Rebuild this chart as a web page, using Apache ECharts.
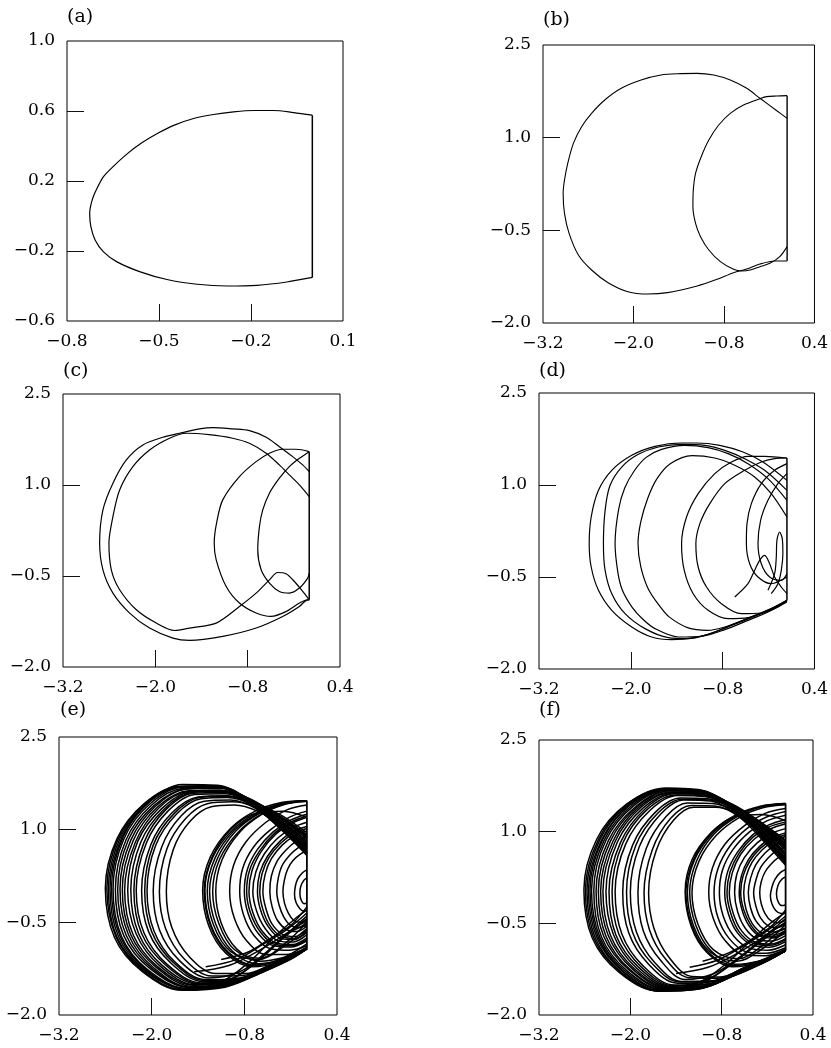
<!DOCTYPE html>
<html>
<head>
<meta charset="utf-8">
<script src="https://cdn.jsdelivr.net/npm/echarts@6/dist/echarts.min.js"></script>
<style>
  html, body { margin: 0; padding: 0; background: #fff; }
  #chart { width: 831px; height: 1048px; }
</style>
</head>
<body>
<div id="chart"></div>
<script>
// ---------- tick values ----------
const aXLabels = [-0.8, -0.5, -0.2, 0.1];
const aXTicks  = [-0.5, -0.2];
const aYLabels = [-0.6, -0.2, 0.2, 0.6, 1.0];
const aYTicks  = [-0.2, 0.2, 0.6];
const wideXLabels = [-3.2, -2.0, -0.8, 0.4];
const wideXTicks  = [-2.0, -0.8];
const wideYLabels = [-2.0, -0.5, 1.0, 2.5];
const wideYTicks  = [-0.5, 1.0];

// ---------- (a) period-1 orbit ----------
const aOrbit = [[0.0,0.576],[-0.061,0.591],[-0.126,0.603],[-0.191,0.603],[-0.257,0.595],[-0.322,0.580],[-0.387,0.557],[-0.452,0.518],[-0.507,0.470],[-0.556,0.418],[-0.604,0.355],[-0.648,0.285],[-0.681,0.225],[-0.702,0.158],[-0.718,0.091],[-0.726,0.015],[-0.722,-0.062],[-0.708,-0.138],[-0.681,-0.205],[-0.637,-0.262],[-0.561,-0.319],[-0.474,-0.363],[-0.376,-0.390],[-0.278,-0.400],[-0.180,-0.396],[-0.083,-0.377],[0.0,-0.351]];
const aWall = [[0.0,-0.351],[0.0,0.576]];

// ---------- (b) period-2 orbit ----------
const bOuter = [[0.037,1.313],[-0.104,1.440],[-0.323,1.637],[-0.498,1.799],[-0.717,1.933],[-0.936,2.014],[-1.155,2.041],[-1.374,2.036],[-1.636,2.014],[-1.899,1.933],[-2.162,1.799],[-2.381,1.610],[-2.556,1.394],[-2.688,1.178],[-2.797,0.908],[-2.872,0.585],[-2.915,0.315],[-2.933,0.099],[-2.915,-0.225],[-2.854,-0.549],[-2.731,-0.899],[-2.556,-1.142],[-2.337,-1.347],[-2.074,-1.493],[-1.812,-1.531],[-1.549,-1.509],[-1.155,-1.401],[-0.892,-1.293],[-0.673,-1.185],[-0.498,-1.126],[-0.323,-1.045],[-0.125,-0.996],[0.037,-0.996]];
const bInner = [[0.037,1.680],[-0.104,1.674],[-0.235,1.664],[-0.323,1.631],[-0.541,1.529],[-0.717,1.394],[-0.870,1.205],[-1.001,0.962],[-1.102,0.692],[-1.177,0.423],[-1.207,0.153],[-1.212,-0.117],[-1.177,-0.387],[-1.111,-0.603],[-1.001,-0.818],[-0.848,-1.007],[-0.673,-1.131],[-0.563,-1.158],[-0.454,-1.142],[-0.323,-1.088],[-0.191,-1.034],[-0.060,-0.926],[0.037,-0.764]];
const bWall = [[0.037,1.680],[0.037,-0.996]];

// ---------- (c) period-4 orbit ----------
const cLoop1 = [[0.0,1.221],[-0.085,1.331],[-0.215,1.468],[-0.388,1.632],[-0.560,1.787],[-0.777,1.896],[-0.994,1.924],[-1.253,1.945],[-1.426,1.924],[-1.685,1.853],[-1.902,1.787],[-2.162,1.660],[-2.377,1.413],[-2.551,1.030],[-2.681,0.590],[-2.724,0.042],[-2.681,-0.398],[-2.551,-0.782],[-2.334,-1.111],[-2.075,-1.358],[-1.772,-1.523],[-1.556,-1.562],[-1.124,-1.496],[-0.690,-1.358],[-0.345,-1.167],[-0.128,-1.002],[-0.020,-0.892],[0.0,-0.892]];
const cLoop2 = [[0.0,0.809],[-0.128,1.002],[-0.258,1.166],[-0.388,1.331],[-0.560,1.524],[-0.777,1.688],[-0.994,1.771],[-1.300,1.830],[-1.599,1.853],[-1.815,1.771],[-2.075,1.578],[-2.292,1.303],[-2.464,0.919],[-2.551,0.480],[-2.603,0.042],[-2.572,-0.398],[-2.464,-0.727],[-2.247,-1.057],[-1.988,-1.276],[-1.750,-1.398],[-1.556,-1.358],[-1.209,-1.276],[-0.907,-1.002],[-0.690,-0.782],[-0.517,-0.563],[-0.410,-0.442],[-0.301,-0.464],[-0.193,-0.591],[-0.085,-0.755],[-0.007,-0.880]];
const cLoop3 = [[0.0,1.550],[-0.171,1.589],[-0.345,1.589],[-0.517,1.524],[-0.690,1.385],[-0.907,1.138],[-1.124,0.755],[-1.200,0.400],[-1.235,0.050],[-1.209,-0.233],[-1.079,-0.673],[-0.907,-0.946],[-0.690,-1.111],[-0.495,-1.167],[-0.301,-1.085],[-0.128,-0.946],[-0.020,-0.892],[0.0,-0.892]];
const cLoop4 = [[0.0,1.550],[-0.128,1.441],[-0.258,1.303],[-0.388,1.112],[-0.517,0.865],[-0.604,0.590],[-0.647,0.315],[-0.669,-0.069],[-0.625,-0.398],[-0.517,-0.617],[-0.388,-0.755],[-0.258,-0.782],[-0.128,-0.699],[-0.020,-0.535],[0.0,-0.452]];
const cWall = [[0.0,1.550],[0.0,-0.892]];

// ---------- (d) higher-period orbit ----------
const dLoop1 = [[0.040,1.076],[-0.273,1.375],[-0.534,1.538],[-0.838,1.647],[-1.142,1.685],[-1.337,1.685],[-1.684,1.630],[-1.988,1.484],[-2.249,1.239],[-2.423,0.913],[-2.518,0.478],[-2.544,0.044],[-2.518,-0.337],[-2.423,-0.717],[-2.249,-1.043],[-1.988,-1.315],[-1.728,-1.478],[-1.467,-1.522],[-1.163,-1.489],[-0.903,-1.397],[-0.642,-1.261],[-0.382,-1.125],[-0.165,-1.016],[0.040,-0.880]];
const dLoop2 = [[0.040,0.913],[-0.251,1.239],[-0.512,1.429],[-0.772,1.565],[-1.033,1.647],[-1.337,1.663],[-1.641,1.620],[-1.902,1.500],[-2.119,1.293],[-2.271,0.995],[-2.336,0.587],[-2.358,0.044],[-2.336,-0.391],[-2.249,-0.772],[-2.075,-1.098],[-1.815,-1.342],[-1.511,-1.489],[-1.250,-1.505],[-0.990,-1.435],[-0.686,-1.288],[-0.382,-1.141],[-0.165,-1.033],[0.040,-0.891]];
const dLoop3 = [[0.040,0.750],[-0.208,1.103],[-0.469,1.348],[-0.729,1.511],[-0.990,1.609],[-1.294,1.647],[-1.598,1.580],[-1.800,1.450],[-1.950,1.240],[-2.080,0.950],[-2.160,0.600],[-2.206,0.045],[-2.170,-0.420],[-2.110,-0.717],[-1.980,-1.000],[-1.850,-1.180],[-1.684,-1.342],[-1.380,-1.478],[-1.077,-1.467],[-0.772,-1.359],[-0.469,-1.207],[-0.208,-1.071],[0.040,-0.908]];
const dLoop4 = [[0.040,0.478],[-0.165,0.859],[-0.382,1.130],[-0.642,1.321],[-0.903,1.440],[-1.200,1.480],[-1.480,1.350],[-1.660,1.100],[-1.780,0.780],[-1.870,0.400],[-1.906,0.045],[-1.870,-0.330],[-1.770,-0.700],[-1.620,-0.980],[-1.500,-1.150],[-1.250,-1.330],[-1.000,-1.370],[-0.772,-1.315],[-0.469,-1.179],[-0.208,-1.043],[0.040,-0.891]];
const dLoop5 = [[0.040,1.440],[-0.251,1.467],[-0.469,1.467],[-0.686,1.375],[-0.903,1.185],[-1.120,0.859],[-1.272,0.478],[-1.337,0.044],[-1.302,-0.391],[-1.185,-0.772],[-0.990,-1.043],[-0.729,-1.179],[-0.469,-1.163],[-0.208,-1.043],[0.040,-0.880]];
const dLoop6 = [[0.040,1.440],[-0.121,1.429],[-0.295,1.375],[-0.512,1.239],[-0.772,1.022],[-0.968,0.696],[-1.098,0.370],[-1.150,0.044],[-1.120,-0.337],[-1.011,-0.663],[-0.816,-0.935],[-0.555,-1.098],[-0.295,-1.087],[-0.078,-0.989],[0.040,-0.880]];
const dLoop7 = [[0.040,1.348],[-0.121,1.239],[-0.295,1.022],[-0.425,0.696],[-0.482,0.370],[-0.490,0.044],[-0.447,-0.283],[-0.338,-0.500],[-0.165,-0.609],[0.040,-0.500]];
const dLoop8 = [[0.040,1.185],[-0.078,1.022],[-0.208,0.750],[-0.304,0.424],[-0.338,0.044],[-0.295,-0.283],[-0.186,-0.500],[-0.034,-0.554],[0.040,-0.446]];
const dTear = [[-0.208,-0.717],[-0.121,-0.446],[-0.099,-0.174],[-0.091,0.098],[-0.056,0.234],[-0.021,0.125],[-0.013,-0.120],[-0.034,-0.391],[-0.078,-0.609],[-0.165,-0.772]];
const dBump = [[-0.642,-0.826],[-0.469,-0.609],[-0.382,-0.391],[-0.317,-0.228],[-0.251,-0.147],[-0.186,-0.283],[-0.121,-0.500],[-0.034,-0.663],[0.040,-0.772]];
const dWall = [[0.040,1.440],[0.040,-0.880]];

// ---------- (e) chaotic attractor ----------
const eOuter1  = [[0.01,0.70],[-0.30,1.05],[-0.70,1.45],[-1.20,1.70],[-1.65,1.70],[-2.10,1.42],[-2.45,0.85],[-2.60,0.05],[-2.48,-0.75],[-2.12,-1.30],[-1.60,-1.60],[-1.05,-1.55],[-0.55,-1.30],[-0.20,-1.10],[0.01,-0.93]];
const eOuter2  = [[0.01,0.78],[-0.32,1.12],[-0.72,1.48],[-1.18,1.70],[-1.62,1.69],[-2.07,1.42],[-2.41,0.86],[-2.56,0.04],[-2.45,-0.74],[-2.10,-1.28],[-1.58,-1.57],[-1.05,-1.53],[-0.56,-1.29],[-0.21,-1.09],[0.01,-0.93]];
const eOuter3  = [[0.01,0.62],[-0.28,0.98],[-0.68,1.42],[-1.15,1.72],[-1.60,1.73],[-2.03,1.45],[-2.37,0.88],[-2.52,0.06],[-2.41,-0.72],[-2.06,-1.28],[-1.55,-1.58],[-1.05,-1.48],[-0.65,-1.15],[-0.35,-0.80],[-0.15,-0.62],[0.01,-0.55]];
const eOuter4  = [[0.01,0.85],[-0.33,1.18],[-0.74,1.50],[-1.17,1.69],[-1.60,1.67],[-2.00,1.40],[-2.33,0.84],[-2.47,0.03],[-2.36,-0.72],[-2.02,-1.25],[-1.52,-1.55],[-1.00,-1.50],[-0.53,-1.27],[-0.20,-1.08],[0.01,-0.93]];
const eOuter5  = [[0.01,0.68],[-0.30,1.03],[-0.70,1.43],[-1.12,1.67],[-1.55,1.66],[-1.95,1.38],[-2.27,0.83],[-2.41,0.04],[-2.30,-0.70],[-1.97,-1.24],[-1.48,-1.56],[-0.98,-1.50],[-0.52,-1.26],[-0.19,-1.07],[0.01,-0.93]];
const eOuter6  = [[0.01,0.92],[-0.34,1.22],[-0.74,1.49],[-1.12,1.64],[-1.52,1.62],[-1.90,1.36],[-2.21,0.80],[-2.35,0.02],[-2.24,-0.70],[-1.92,-1.22],[-1.45,-1.52],[-0.96,-1.48],[-0.51,-1.25],[-0.19,-1.07],[0.01,-0.93]];
const eOuter7  = [[0.01,0.74],[-0.31,1.08],[-0.70,1.42],[-1.08,1.62],[-1.48,1.60],[-1.84,1.33],[-2.14,0.80],[-2.27,0.03],[-2.17,-0.68],[-1.86,-1.20],[-1.40,-1.50],[-0.95,-1.40],[-0.60,-1.10],[-0.32,-0.78],[-0.13,-0.58],[0.01,-0.48]];
const eOuter8  = [[0.01,0.60],[-0.28,0.96],[-0.66,1.36],[-1.05,1.58],[-1.44,1.57],[-1.79,1.30],[-2.07,0.78],[-2.20,0.02],[-2.10,-0.67],[-1.80,-1.18],[-1.36,-1.48],[-0.90,-1.44],[-0.48,-1.22],[-0.18,-1.05],[0.01,-0.93]];
const eOuter9  = [[0.01,0.95],[-0.33,1.24],[-0.70,1.45],[-1.04,1.55],[-1.40,1.53],[-1.74,1.27],[-2.01,0.76],[-2.13,0.02],[-2.04,-0.65],[-1.75,-1.16],[-1.33,-1.46],[-0.88,-1.42],[-0.47,-1.21],[-0.18,-1.05],[0.01,-0.93]];
const eOuter10 = [[0.01,0.80],[-0.31,1.12],[-0.68,1.40],[-1.02,1.52],[-1.36,1.50],[-1.68,1.25],[-1.95,0.74],[-2.06,0.01],[-1.97,-0.64],[-1.70,-1.14],[-1.30,-1.43],[-0.86,-1.40],[-0.46,-1.20],[-0.18,-1.04],[0.01,-0.93]];
const eOuter11 = [[0.01,0.66],[-0.29,1.00],[-0.65,1.34],[-0.98,1.48],[-1.32,1.46],[-1.62,1.22],[-1.87,0.72],[-1.98,0.01],[-1.90,-0.62],[-1.64,-1.12],[-1.26,-1.40],[-0.86,-1.30],[-0.55,-1.02],[-0.28,-0.72],[-0.10,-0.52],[0.01,-0.40]];
const eOuter12 = [[0.01,0.88],[-0.32,1.18],[-0.66,1.38],[-0.96,1.45],[-1.28,1.42],[-1.56,1.18],[-1.80,0.70],[-1.90,0.00],[-1.82,-0.60],[-1.58,-1.09],[-1.22,-1.37],[-0.82,-1.36],[-0.44,-1.18],[-0.17,-1.03],[0.01,-0.93]];
const eOuter13 = [[0.01,0.72],[-0.30,1.04],[-0.63,1.30],[-0.93,1.40],[-1.23,1.37],[-1.50,1.14],[-1.72,0.68],[-1.81,0.00],[-1.74,-0.58],[-1.51,-1.06],[-1.17,-1.33],[-0.79,-1.33],[-0.43,-1.17],[-0.17,-1.02],[0.01,-0.93]];
const eOuter14 = [[0.01,0.88],[-0.33,1.20],[-0.73,1.50],[-1.19,1.71],[-1.63,1.70],[-2.08,1.43],[-2.43,0.86],[-2.58,0.05],[-2.46,-0.74],[-2.11,-1.29],[-1.59,-1.59],[-1.05,-1.54],[-0.55,-1.30],[-0.21,-1.10],[0.01,-0.93]];
const eOuter15 = [[0.01,0.64],[-0.29,1.00],[-0.69,1.43],[-1.14,1.69],[-1.58,1.69],[-2.02,1.42],[-2.36,0.85],[-2.50,0.04],[-2.39,-0.73],[-2.05,-1.27],[-1.54,-1.57],[-1.02,-1.51],[-0.54,-1.28],[-0.20,-1.08],[0.01,-0.93]];
const eOuter16 = [[0.01,0.76],[-0.31,1.10],[-0.71,1.46],[-1.13,1.68],[-1.56,1.66],[-1.97,1.39],[-2.30,0.84],[-2.44,0.03],[-2.33,-0.71],[-1.99,-1.25],[-1.50,-1.55],[-0.99,-1.50],[-0.52,-1.27],[-0.19,-1.08],[0.01,-0.93]];
const eOuter17 = [[0.01,0.82],[-0.32,1.14],[-0.71,1.45],[-1.10,1.64],[-1.52,1.63],[-1.92,1.37],[-2.24,0.82],[-2.38,0.03],[-2.27,-0.70],[-1.94,-1.23],[-1.46,-1.54],[-0.97,-1.49],[-0.51,-1.26],[-0.19,-1.07],[0.01,-0.93]];
const eOuter18 = [[0.01,0.58],[-0.28,0.95],[-0.67,1.37],[-1.08,1.63],[-1.50,1.61],[-1.87,1.34],[-2.18,0.81],[-2.31,0.02],[-2.20,-0.69],[-1.89,-1.21],[-1.43,-1.51],[-0.95,-1.47],[-0.50,-1.25],[-0.19,-1.06],[0.01,-0.93]];
const eOuter19 = [[0.01,0.90],[-0.33,1.21],[-0.73,1.49],[-1.17,1.71],[-1.61,1.70],[-2.05,1.43],[-2.39,0.86],[-2.54,0.05],[-2.43,-0.73],[-2.08,-1.28],[-1.56,-1.58],[-1.08,-1.45],[-0.70,-1.10],[-0.40,-0.72],[-0.15,-0.45],[0.01,-0.30]];
const eOuter20 = [[0.01,0.86],[-0.32,1.17],[-0.70,1.44],[-1.06,1.60],[-1.46,1.59],[-1.82,1.32],[-2.10,0.79],[-2.23,0.02],[-2.13,-0.68],[-1.82,-1.19],[-1.38,-1.49],[-0.92,-1.45],[-0.49,-1.23],[-0.18,-1.05],[0.01,-0.93]];
const eOuter21 = [[0.01,0.62],[-0.29,0.98],[-0.67,1.37],[-1.03,1.54],[-1.38,1.52],[-1.71,1.26],[-1.98,0.75],[-2.09,0.01],[-2.00,-0.65],[-1.72,-1.15],[-1.32,-1.44],[-0.87,-1.41],[-0.46,-1.20],[-0.18,-1.04],[0.01,-0.93]];
const eInner1  = [[0.01,1.47],[-0.32,1.44],[-0.66,1.30],[-0.98,1.02],[-1.24,0.56],[-1.34,0.02],[-1.26,-0.56],[-1.04,-1.00],[-0.70,-1.22],[-0.34,-1.14],[0.01,-0.93]];
const eInner2  = [[0.01,1.47],[-0.30,1.43],[-0.63,1.28],[-0.95,1.00],[-1.21,0.55],[-1.31,0.02],[-1.23,-0.55],[-1.01,-0.98],[-0.68,-1.19],[-0.34,-1.10],[0.01,-0.85]];
const eInner3  = [[0.01,1.46],[-0.28,1.42],[-0.61,1.27],[-0.93,0.99],[-1.18,0.54],[-1.28,0.01],[-1.20,-0.54],[-0.98,-0.97],[-0.62,-1.10],[-0.30,-0.90],[0.01,-0.60]];
const eInner4  = [[0.01,1.47],[-0.29,1.43],[-0.60,1.27],[-0.91,0.98],[-1.15,0.53],[-1.25,0.01],[-1.17,-0.53],[-0.96,-0.96],[-0.64,-1.17],[-0.31,-1.10],[0.01,-0.93]];
const eInner5  = [[0.01,1.46],[-0.27,1.41],[-0.58,1.25],[-0.88,0.96],[-1.12,0.52],[-1.21,0.00],[-1.13,-0.52],[-0.93,-0.94],[-0.60,-1.08],[-0.28,-0.85],[0.01,-0.50]];
const eInner6  = [[0.01,1.47],[-0.28,1.42],[-0.57,1.25],[-0.86,0.96],[-1.09,0.51],[-1.17,0.00],[-1.10,-0.51],[-0.90,-0.93],[-0.60,-1.13],[-0.29,-1.07],[0.01,-0.93]];
const eInner7  = [[0.01,1.40],[-0.25,1.32],[-0.52,1.12],[-0.78,0.80],[-0.94,0.42],[-0.99,0.00],[-0.93,-0.43],[-0.77,-0.80],[-0.52,-1.02],[-0.25,-1.02],[0.01,-0.90]];
const eInner8  = [[0.01,1.30],[-0.22,1.20],[-0.46,1.00],[-0.68,0.72],[-0.82,0.38],[-0.86,0.00],[-0.81,-0.38],[-0.67,-0.72],[-0.45,-0.93],[-0.21,-0.95],[0.01,-0.88]];
const eInner9  = [[0.01,1.25],[-0.21,1.15],[-0.43,0.96],[-0.63,0.68],[-0.76,0.36],[-0.80,0.00],[-0.75,-0.36],[-0.62,-0.68],[-0.42,-0.88],[-0.20,-0.90],[0.01,-0.80]];
const eInner10 = [[0.01,1.20],[-0.19,1.10],[-0.40,0.92],[-0.58,0.65],[-0.70,0.34],[-0.74,0.00],[-0.69,-0.34],[-0.57,-0.64],[-0.38,-0.84],[-0.18,-0.86],[0.01,-0.75]];
const eInner11 = [[0.01,1.12],[-0.18,1.03],[-0.37,0.86],[-0.54,0.61],[-0.65,0.32],[-0.69,0.00],[-0.64,-0.32],[-0.53,-0.60],[-0.36,-0.80],[-0.17,-0.82],[0.01,-0.70]];
const eInner12 = [[0.01,1.05],[-0.17,0.97],[-0.34,0.81],[-0.50,0.57],[-0.60,0.30],[-0.63,0.00],[-0.59,-0.30],[-0.49,-0.57],[-0.33,-0.76],[-0.16,-0.78],[0.01,-0.66]];
const eInner13 = [[0.01,0.98],[-0.15,0.90],[-0.31,0.75],[-0.45,0.53],[-0.53,0.28],[-0.56,0.00],[-0.52,-0.28],[-0.44,-0.53],[-0.30,-0.70],[-0.15,-0.73],[0.01,-0.62]];
const eInner14 = [[0.01,0.88],[-0.13,0.81],[-0.26,0.67],[-0.38,0.48],[-0.45,0.25],[-0.47,0.00],[-0.44,-0.25],[-0.37,-0.47],[-0.25,-0.62],[-0.12,-0.65],[0.01,-0.56]];
const eInner15 = [[0.01,0.78],[-0.10,0.71],[-0.21,0.59],[-0.31,0.42],[-0.36,0.22],[-0.38,0.00],[-0.35,-0.22],[-0.29,-0.41],[-0.20,-0.55],[-0.10,-0.58],[0.01,-0.50]];
const eInner16 = [[0.01,0.66],[-0.08,0.60],[-0.17,0.50],[-0.24,0.36],[-0.28,0.19],[-0.30,0.00],[-0.28,-0.19],[-0.23,-0.35],[-0.16,-0.47],[-0.08,-0.50],[0.01,-0.44]];
const eInner17 = [[0.01,1.20],[-0.30,1.30],[-0.64,1.27],[-0.97,1.01],[-1.22,0.55],[-1.32,0.02],[-1.24,-0.55],[-1.02,-0.99],[-0.69,-1.20],[-0.33,-1.12],[0.01,-0.93]];
const eInner18 = [[0.01,1.22],[-0.20,1.12],[-0.41,0.94],[-0.60,0.66],[-0.73,0.35],[-0.77,0.00],[-0.72,-0.35],[-0.59,-0.66],[-0.40,-0.86],[-0.19,-0.88],[0.01,-0.78]];
const eInner19 = [[0.01,1.02],[-0.16,0.94],[-0.33,0.78],[-0.48,0.55],[-0.57,0.29],[-0.60,0.00],[-0.56,-0.29],[-0.47,-0.55],[-0.32,-0.73],[-0.15,-0.76],[0.01,-0.64]];
const eSmall1  = [[0.01,0.35],[-0.05,0.30],[-0.11,0.20],[-0.14,0.08],[-0.15,-0.05],[-0.13,-0.18],[-0.08,-0.28],[-0.03,-0.32],[0.01,-0.30]];
const eSmall2  = [[0.01,0.22],[-0.03,0.18],[-0.07,0.08],[-0.08,-0.04],[-0.06,-0.15],[-0.02,-0.20],[0.01,-0.18]];
const eRise1   = [[-1.45,-1.30],[-1.00,-1.20],[-0.60,-0.95],[-0.28,-0.70],[0.01,-0.45]];
const eRise2   = [[-1.30,-1.22],[-0.90,-1.10],[-0.55,-0.85],[-0.25,-0.62],[0.01,-0.35]];
const eRise3   = [[-1.10,-1.10],[-0.75,-0.98],[-0.45,-0.75],[-0.20,-0.55],[0.01,-0.25]];
const eWall    = [[0.01,1.47],[0.01,-0.93]];

// ---------- (f) chaotic attractor ----------
const fOuter1  = [[0.04,0.55],[-0.25,0.92],[-0.62,1.36],[-1.10,1.66],[-1.55,1.70],[-2.05,1.45],[-2.44,0.88],[-2.61,0.05],[-2.50,-0.74],[-2.15,-1.30],[-1.65,-1.60],[-1.15,-1.58],[-0.62,-1.35],[-0.22,-1.13],[0.04,-0.95]];
const fOuter2  = [[0.04,0.62],[-0.26,0.98],[-0.64,1.40],[-1.10,1.68],[-1.54,1.70],[-2.02,1.45],[-2.40,0.87],[-2.57,0.04],[-2.46,-0.74],[-2.12,-1.30],[-1.62,-1.61],[-1.12,-1.58],[-0.61,-1.34],[-0.22,-1.12],[0.04,-0.95]];
const fOuter3  = [[0.04,0.48],[-0.24,0.86],[-0.60,1.33],[-1.08,1.66],[-1.52,1.71],[-1.99,1.46],[-2.36,0.88],[-2.53,0.05],[-2.42,-0.73],[-2.09,-1.29],[-1.60,-1.60],[-1.10,-1.50],[-0.68,-1.18],[-0.35,-0.86],[-0.12,-0.66],[0.04,-0.58]];
const fOuter4  = [[0.04,0.70],[-0.27,1.04],[-0.64,1.42],[-1.08,1.66],[-1.50,1.68],[-1.95,1.43],[-2.32,0.86],[-2.48,0.04],[-2.38,-0.72],[-2.05,-1.27],[-1.57,-1.58],[-1.08,-1.56],[-0.59,-1.32],[-0.22,-1.12],[0.04,-0.95]];
const fOuter5  = [[0.04,0.58],[-0.25,0.94],[-0.62,1.36],[-1.06,1.64],[-1.47,1.67],[-1.90,1.42],[-2.26,0.85],[-2.42,0.03],[-2.32,-0.71],[-2.00,-1.26],[-1.53,-1.57],[-1.05,-1.55],[-0.58,-1.31],[-0.21,-1.11],[0.04,-0.95]];
const fOuter6  = [[0.04,0.78],[-0.28,1.10],[-0.65,1.43],[-1.05,1.62],[-1.45,1.64],[-1.86,1.40],[-2.20,0.84],[-2.36,0.03],[-2.26,-0.70],[-1.95,-1.24],[-1.50,-1.55],[-1.03,-1.53],[-0.57,-1.30],[-0.21,-1.10],[0.04,-0.95]];
const fOuter7  = [[0.04,0.50],[-0.24,0.88],[-0.60,1.30],[-1.02,1.60],[-1.42,1.62],[-1.80,1.38],[-2.13,0.82],[-2.28,0.02],[-2.19,-0.69],[-1.89,-1.22],[-1.46,-1.53],[-1.00,-1.42],[-0.62,-1.12],[-0.32,-0.82],[-0.10,-0.60],[0.04,-0.50]];
const fOuter8  = [[0.04,0.66],[-0.26,1.00],[-0.62,1.36],[-1.00,1.57],[-1.38,1.59],[-1.74,1.35],[-2.06,0.80],[-2.20,0.02],[-2.11,-0.68],[-1.83,-1.20],[-1.42,-1.51],[-0.98,-1.49],[-0.55,-1.28],[-0.20,-1.09],[0.04,-0.95]];
const fOuter9  = [[0.04,0.84],[-0.28,1.14],[-0.63,1.40],[-0.98,1.54],[-1.34,1.55],[-1.67,1.32],[-1.97,0.78],[-2.10,0.01],[-2.02,-0.66],[-1.76,-1.17],[-1.38,-1.48],[-0.95,-1.46],[-0.53,-1.26],[-0.20,-1.08],[0.04,-0.95]];
const fOuter10 = [[0.04,0.45],[-0.23,0.82],[-0.57,1.24],[-0.94,1.50],[-1.30,1.52],[-1.60,1.29],[-1.88,0.76],[-2.00,0.01],[-1.92,-0.64],[-1.68,-1.14],[-1.33,-1.45],[-0.92,-1.44],[-0.52,-1.24],[-0.19,-1.07],[0.04,-0.95]];
const fOuter11 = [[0.04,0.72],[-0.26,1.04],[-0.59,1.32],[-0.92,1.46],[-1.25,1.47],[-1.53,1.25],[-1.79,0.73],[-1.90,0.00],[-1.83,-0.62],[-1.60,-1.11],[-1.28,-1.42],[-0.90,-1.32],[-0.56,-1.05],[-0.28,-0.76],[-0.08,-0.55],[0.04,-0.42]];
const fOuter12 = [[0.04,0.56],[-0.24,0.90],[-0.56,1.24],[-0.89,1.42],[-1.20,1.43],[-1.47,1.22],[-1.71,0.71],[-1.82,0.00],[-1.75,-0.60],[-1.54,-1.08],[-1.23,-1.39],[-0.86,-1.40],[-0.49,-1.22],[-0.19,-1.06],[0.04,-0.95]];
const fOuter13 = [[0.04,0.80],[-0.27,1.10],[-0.58,1.30],[-0.88,1.40],[-1.17,1.40],[-1.43,1.19],[-1.66,0.69],[-1.76,0.00],[-1.69,-0.58],[-1.49,-1.06],[-1.19,-1.37],[-0.83,-1.38],[-0.48,-1.21],[-0.18,-1.06],[0.04,-0.95]];
const fOuter14 = [[0.04,0.66],[-0.27,1.01],[-0.65,1.41],[-1.11,1.69],[-1.55,1.71],[-2.04,1.45],[-2.42,0.87],[-2.59,0.04],[-2.48,-0.74],[-2.13,-1.30],[-1.63,-1.61],[-1.13,-1.58],[-0.61,-1.34],[-0.22,-1.12],[0.04,-0.95]];
const fOuter15 = [[0.04,0.52],[-0.24,0.90],[-0.61,1.34],[-1.07,1.65],[-1.51,1.69],[-1.97,1.44],[-2.34,0.87],[-2.51,0.04],[-2.40,-0.73],[-2.07,-1.28],[-1.58,-1.59],[-1.09,-1.56],[-0.59,-1.32],[-0.22,-1.12],[0.04,-0.95]];
const fOuter16 = [[0.04,0.74],[-0.27,1.07],[-0.64,1.42],[-1.07,1.65],[-1.49,1.67],[-1.92,1.42],[-2.29,0.85],[-2.45,0.03],[-2.35,-0.71],[-2.02,-1.26],[-1.55,-1.57],[-1.06,-1.55],[-0.58,-1.31],[-0.21,-1.11],[0.04,-0.95]];
const fOuter17 = [[0.04,0.62],[-0.26,0.98],[-0.63,1.38],[-1.06,1.63],[-1.46,1.65],[-1.88,1.41],[-2.23,0.84],[-2.39,0.03],[-2.29,-0.70],[-1.97,-1.25],[-1.51,-1.56],[-1.04,-1.54],[-0.57,-1.30],[-0.21,-1.10],[0.04,-0.95]];
const fOuter18 = [[0.04,0.86],[-0.29,1.16],[-0.66,1.45],[-1.04,1.61],[-1.43,1.63],[-1.83,1.39],[-2.17,0.83],[-2.32,0.02],[-2.22,-0.69],[-1.92,-1.23],[-1.48,-1.54],[-1.01,-1.52],[-0.56,-1.29],[-0.21,-1.10],[0.04,-0.95]];
const fOuter19 = [[0.04,0.80],[-0.28,1.13],[-0.66,1.44],[-1.10,1.67],[-1.53,1.69],[-2.00,1.44],[-2.38,0.86],[-2.55,0.04],[-2.44,-0.73],[-2.10,-1.29],[-1.61,-1.60],[-1.12,-1.48],[-0.72,-1.14],[-0.40,-0.76],[-0.14,-0.48],[0.04,-0.32]];
const fOuter20 = [[0.04,0.54],[-0.25,0.91],[-0.61,1.33],[-1.01,1.58],[-1.40,1.60],[-1.78,1.36],[-2.10,0.81],[-2.24,0.02],[-2.15,-0.68],[-1.86,-1.21],[-1.44,-1.52],[-0.99,-1.50],[-0.55,-1.28],[-0.20,-1.09],[0.04,-0.95]];
const fOuter21 = [[0.04,0.76],[-0.27,1.08],[-0.61,1.36],[-0.96,1.52],[-1.32,1.53],[-1.64,1.30],[-1.93,0.77],[-2.05,0.01],[-1.97,-0.65],[-1.72,-1.15],[-1.35,-1.46],[-0.93,-1.45],[-0.52,-1.25],[-0.19,-1.07],[0.04,-0.95]];
const fInner1  = [[0.04,1.46],[-0.28,1.42],[-0.62,1.27],[-0.94,0.98],[-1.19,0.54],[-1.28,0.02],[-1.20,-0.55],[-0.99,-0.98],[-0.66,-1.21],[-0.30,-1.14],[0.04,-0.95]];
const fInner2  = [[0.04,1.45],[-0.27,1.41],[-0.60,1.26],[-0.92,0.97],[-1.16,0.53],[-1.25,0.01],[-1.17,-0.54],[-0.96,-0.96],[-0.60,-1.12],[-0.27,-0.92],[0.04,-0.62]];
const fInner3  = [[0.04,1.46],[-0.27,1.41],[-0.59,1.25],[-0.90,0.96],[-1.13,0.52],[-1.22,0.01],[-1.14,-0.53],[-0.94,-0.95],[-0.63,-1.17],[-0.29,-1.11],[0.04,-0.95]];
const fInner4  = [[0.04,1.44],[-0.26,1.39],[-0.57,1.23],[-0.87,0.94],[-1.10,0.51],[-1.19,0.00],[-1.11,-0.52],[-0.91,-0.93],[-0.58,-1.08],[-0.26,-0.86],[0.04,-0.52]];
const fInner5  = [[0.04,1.38],[-0.23,1.30],[-0.50,1.10],[-0.76,0.79],[-0.92,0.41],[-0.97,0.00],[-0.91,-0.42],[-0.75,-0.79],[-0.50,-1.02],[-0.22,-1.03],[0.04,-0.92]];
const fInner6  = [[0.04,1.33],[-0.21,1.24],[-0.47,1.05],[-0.70,0.75],[-0.85,0.39],[-0.90,0.00],[-0.85,-0.40],[-0.70,-0.75],[-0.47,-0.97],[-0.21,-0.99],[0.04,-0.90]];
const fInner7  = [[0.04,1.27],[-0.20,1.18],[-0.43,1.00],[-0.65,0.71],[-0.79,0.37],[-0.83,0.00],[-0.78,-0.38],[-0.64,-0.71],[-0.43,-0.91],[-0.19,-0.94],[0.04,-0.85]];
const fInner8  = [[0.04,1.20],[-0.18,1.11],[-0.40,0.94],[-0.59,0.67],[-0.72,0.35],[-0.76,0.00],[-0.71,-0.35],[-0.59,-0.66],[-0.39,-0.86],[-0.17,-0.89],[0.04,-0.80]];
const fInner9  = [[0.04,1.13],[-0.17,1.04],[-0.37,0.88],[-0.55,0.63],[-0.66,0.33],[-0.70,0.00],[-0.65,-0.33],[-0.54,-0.62],[-0.36,-0.81],[-0.16,-0.84],[0.04,-0.75]];
const fInner10 = [[0.04,1.05],[-0.15,0.97],[-0.33,0.82],[-0.50,0.58],[-0.60,0.31],[-0.63,0.00],[-0.59,-0.31],[-0.49,-0.58],[-0.33,-0.76],[-0.15,-0.79],[0.04,-0.70]];
const fInner11 = [[0.04,0.98],[-0.14,0.90],[-0.30,0.76],[-0.45,0.54],[-0.54,0.28],[-0.57,0.00],[-0.53,-0.29],[-0.44,-0.54],[-0.30,-0.71],[-0.13,-0.74],[0.04,-0.66]];
const fInner12 = [[0.04,0.92],[-0.12,0.84],[-0.27,0.70],[-0.40,0.50],[-0.48,0.26],[-0.51,0.00],[-0.48,-0.27],[-0.40,-0.50],[-0.27,-0.66],[-0.12,-0.69],[0.04,-0.62]];
const fInner13 = [[0.04,0.85],[-0.10,0.78],[-0.23,0.65],[-0.35,0.46],[-0.42,0.24],[-0.45,0.00],[-0.42,-0.25],[-0.35,-0.46],[-0.23,-0.61],[-0.10,-0.64],[0.04,-0.58]];
const fInner14 = [[0.04,0.75],[-0.08,0.69],[-0.19,0.57],[-0.29,0.41],[-0.35,0.21],[-0.38,0.00],[-0.35,-0.22],[-0.29,-0.41],[-0.19,-0.54],[-0.08,-0.57],[0.04,-0.52]];
const fInner15 = [[0.04,0.62],[-0.06,0.57],[-0.15,0.47],[-0.23,0.34],[-0.28,0.18],[-0.30,0.00],[-0.28,-0.18],[-0.23,-0.34],[-0.15,-0.46],[-0.06,-0.49],[0.04,-0.45]];
const fInner16 = [[0.04,1.18],[-0.28,1.28],[-0.61,1.25],[-0.93,0.99],[-1.17,0.54],[-1.27,0.02],[-1.19,-0.54],[-0.98,-0.97],[-0.65,-1.19],[-0.30,-1.12],[0.04,-0.95]];
const fInner17 = [[0.04,1.16],[-0.19,1.07],[-0.39,0.91],[-0.57,0.65],[-0.69,0.34],[-0.73,0.00],[-0.68,-0.34],[-0.57,-0.64],[-0.38,-0.83],[-0.17,-0.86],[0.04,-0.77]];
const fInner18 = [[0.04,0.95],[-0.13,0.87],[-0.29,0.73],[-0.43,0.52],[-0.52,0.27],[-0.55,0.00],[-0.51,-0.28],[-0.42,-0.52],[-0.29,-0.69],[-0.13,-0.72],[0.04,-0.64]];
const fSmall1  = [[0.04,0.38],[-0.03,0.33],[-0.10,0.22],[-0.14,0.09],[-0.16,-0.05],[-0.14,-0.18],[-0.09,-0.29],[-0.02,-0.34],[0.04,-0.32]];
const fSmall2  = [[0.04,0.26],[-0.01,0.22],[-0.06,0.12],[-0.08,-0.02],[-0.06,-0.14],[-0.01,-0.21],[0.04,-0.20]];
const fRise1   = [[-1.40,-1.32],[-0.98,-1.22],[-0.58,-0.98],[-0.25,-0.72],[0.04,-0.48]];
const fRise2   = [[-1.22,-1.22],[-0.85,-1.10],[-0.50,-0.86],[-0.20,-0.62],[0.04,-0.38]];
const fRise3   = [[-1.05,-1.12],[-0.70,-0.98],[-0.40,-0.76],[-0.15,-0.55],[0.04,-0.28]];
const fWall    = [[0.04,1.46],[0.04,-0.95]];

// ---------- layout of the six phase portraits ----------
const wide = { xr: [-3.2, 0.4], yr: [-2.0, 2.5], xl: wideXLabels, xt: wideXTicks, yl: wideYLabels, yt: wideYTicks };
const panels = [
  { tag: '(a)', tagAt: [67, 8],   box: { left: 67,  top: 41,  width: 276, height: 280 },
    xr: [-0.8, 0.1], yr: [-0.6, 1.0], xl: aXLabels, xt: aXTicks, yl: aYLabels, yt: aYTicks,
    curves: [aOrbit], walls: [aWall], lw: 1.2, sm: 0.3 },
  Object.assign({ tag: '(b)', tagAt: [543, 11], box: { left: 543, top: 45,  width: 274, height: 278 },
    curves: [bOuter, bInner], walls: [bWall], lw: 1.1, sm: 0.3 }, wide),
  Object.assign({ tag: '(c)', tagAt: [63, 362], box: { left: 63,  top: 394, width: 277, height: 273 },
    curves: [cLoop1, cLoop2, cLoop3, cLoop4], walls: [cWall], lw: 1.2, sm: 0.3 }, wide),
  Object.assign({ tag: '(d)', tagAt: [539, 362], box: { left: 539, top: 393, width: 276, height: 276 },
    curves: [dLoop1, dLoop2, dLoop3, dLoop4, dLoop5, dLoop6, dLoop7, dLoop8, dTear, dBump], walls: [dWall], lw: 1.2, sm: 0.3 }, wide),
  Object.assign({ tag: '(e)', tagAt: [60, 701], box: { left: 59,  top: 737, width: 278, height: 278 },
    curves: [eOuter1, eOuter2, eOuter3, eOuter4, eOuter5, eOuter6, eOuter7, eOuter8, eOuter9, eOuter10, eOuter11, eOuter12, eOuter13,
             eOuter14, eOuter15, eOuter16, eOuter17, eOuter18, eOuter19, eOuter20, eOuter21,
             eInner1, eInner2, eInner3, eInner4, eInner5, eInner6, eInner7, eInner8, eInner9, eInner10, eInner11, eInner12, eInner13, eInner14, eInner15, eInner16,
             eInner17, eInner18, eInner19,
             eSmall1, eSmall2, eRise1, eRise2, eRise3], walls: [eWall], lw: 1.5, sm: 0.35 }, wide),
  Object.assign({ tag: '(f)', tagAt: [539, 701], box: { left: 539, top: 740, width: 274, height: 275 },
    curves: [fOuter1, fOuter2, fOuter3, fOuter4, fOuter5, fOuter6, fOuter7, fOuter8, fOuter9, fOuter10, fOuter11, fOuter12, fOuter13,
             fOuter14, fOuter15, fOuter16, fOuter17, fOuter18, fOuter19, fOuter20, fOuter21,
             fInner1, fInner2, fInner3, fInner4, fInner5, fInner6, fInner7, fInner8, fInner9, fInner10, fInner11, fInner12, fInner13, fInner14, fInner15,
             fInner16, fInner17, fInner18,
             fSmall1, fSmall2, fRise1, fRise2, fRise3], walls: [fWall], lw: 1.5, sm: 0.35 }, wide)
];

const FONT = '"DejaVu Serif", "Liberation Serif", serif';
const fmt = v => (v < 0 ? '\u2212' : '') + Math.abs(v).toFixed(1);

const grid = [], xAxis = [], yAxis = [], series = [], graphic = [];
panels.forEach((p, i) => {
  grid.push(Object.assign({ show: true, borderColor: '#000', borderWidth: 1, backgroundColor: 'transparent', containLabel: false }, p.box));
  const common = (labels, ticks) => ({
    type: 'value', gridIndex: i, scale: false,
    axisLine: { show: false, onZero: false },
    splitLine: { show: false },
    axisTick: { show: true, inside: true, length: 17, customValues: ticks, lineStyle: { color: '#111', width: 1 } },
    axisLabel: { show: true, customValues: labels, formatter: fmt, fontFamily: FONT, fontSize: 17, color: '#000', margin: 12, hideOverlap: false }
  });
  xAxis.push(Object.assign(common(p.xl, p.xt), { position: 'bottom', min: p.xr[0], max: p.xr[1] }));
  yAxis.push(Object.assign(common(p.yl, p.yt), { position: 'left', min: p.yr[0], max: p.yr[1] }));
  p.curves.forEach(c => series.push({
    type: 'line', xAxisIndex: i, yAxisIndex: i, data: c,
    symbol: 'none', showSymbol: false, smooth: p.sm, silent: true,
    lineStyle: { color: '#000', width: p.lw }
  }));
  p.walls.forEach(w => series.push({
    type: 'line', xAxisIndex: i, yAxisIndex: i, data: w,
    symbol: 'none', showSymbol: false, smooth: false, silent: true,
    lineStyle: { color: '#000', width: p.lw + 0.3 }
  }));
  graphic.push({ type: 'text', left: p.tagAt[0], top: p.tagAt[1], silent: true,
    style: { text: p.tag, fontFamily: FONT, fontSize: 19, fill: '#000' } });
});

const chart = echarts.init(document.getElementById('chart'), null, { renderer: 'canvas' });
chart.setOption({ backgroundColor: '#fff', animation: false, grid, xAxis, yAxis, series, graphic });
</script>
</body>
</html>
